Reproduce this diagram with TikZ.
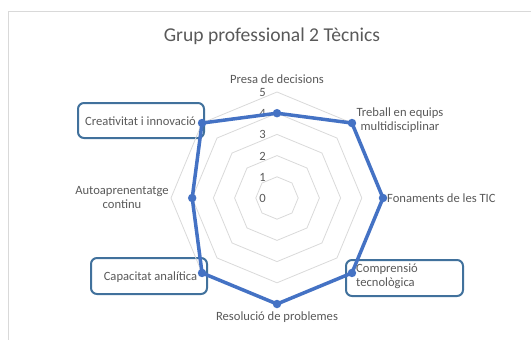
\documentclass[tikz,border=0pt]{standalone}
\usepackage{fontspec}
\setmainfont{Carlito}
\definecolor{txt}{HTML}{595959}
\definecolor{gridc}{HTML}{D9D9D9}
\definecolor{frame}{HTML}{D9D9D9}
\definecolor{series}{HTML}{4472C4}
\definecolor{boxc}{HTML}{41719C}
\begin{document}
\begin{tikzpicture}[x=1pt,y=-1pt,
  lbl/.style={text=txt,font=\fontsize{12.6}{14}\selectfont,inner sep=0pt},
  tick/.style={text=txt,font=\fontsize{12.6}{14}\selectfont,inner sep=0pt,anchor=east},
  callout/.style={draw=boxc,line width=2pt,rounded corners=6pt,inner sep=0pt},
  dot/.style={circle,fill=series,inner sep=0pt,minimum size=8.5pt},
  series line/.style={draw=series,line width=3.5pt,line join=round}]
\useasboundingbox (0,0) rectangle (531,340);
\begin{scope}
\clip (0,0) rectangle (531,340);
\draw[frame,line width=0.9pt] (8.5,11.5) rectangle (560,380);
\end{scope}
\node[text=txt,font=\fontsize{19.6}{22}\selectfont,inner sep=0pt] (title) at (272,36) {Grup professional 2 Tècnics};
% callout boxes
\node[callout,minimum width=126pt,minimum height=35pt] (bcre) at (141,120.5) {};
\node[callout,minimum width=116pt,minimum height=36pt] (bcap) at (149,276) {};
\node[callout,minimum width=117pt,minimum height=36pt] (bcom) at (404.5,278) {};
\begin{scope}[shift={(277,198)},x=21.2pt,y=-21.2pt]
\foreach \k in {1,...,5}{
  \draw[gridc,line width=0.8pt] (-90:\k) \foreach \i in {1,...,7}{ -- ({-90+45*\i}:\k) } -- cycle;
}
\coordinate (c0) at (0,0);
\coordinate (p1) at (-90:4);
\coordinate (p2) at (-45:5);
\coordinate (p3) at (0:5);
\coordinate (p4) at (45:5);
\coordinate (p5) at (90:5);
\coordinate (p6) at (135:5);
\coordinate (p7) at (180:4);
\coordinate (p8) at (225:5);
\end{scope}
\foreach \v/\y in {0/198,1/177,2/156,3/134.5,4/113,5/92.5}{
  \node[tick] (t\v) at (266,\y) {\v};
}
\draw[series line] (p1) -- (p2) -- (p3) -- (p4) -- (p5) -- (p6) -- (p7) -- (p8) -- cycle;
\foreach \p in {p1,p2,p3,p4,p5,p6,p7,p8}{
  \node[dot] (d\p) at (\p) {};
}
% category labels
\node[lbl] (l1) at (277,79) {Presa de decisions};
\node[lbl,align=center] (l2) at (400,120) {Treball en equips\\multidisciplinar};
\node[lbl,anchor=west] (l3) at (387,198) {Fonaments de les TIC};
\node[lbl,align=left,anchor=west] (l4) at (356,276) {Comprensió\\tecnològica};
\node[lbl] (l5) at (277,317) {Resolució de problemes};
\node[lbl] (l6) at (150.5,277) {Capacitat analítica};
\node[lbl,align=center] (l7) at (122,198) {Autoaprenentatge\\continu};
\node[lbl] (l8) at (140.5,121) {Creativitat i innovació};
\end{tikzpicture}
\end{document}
